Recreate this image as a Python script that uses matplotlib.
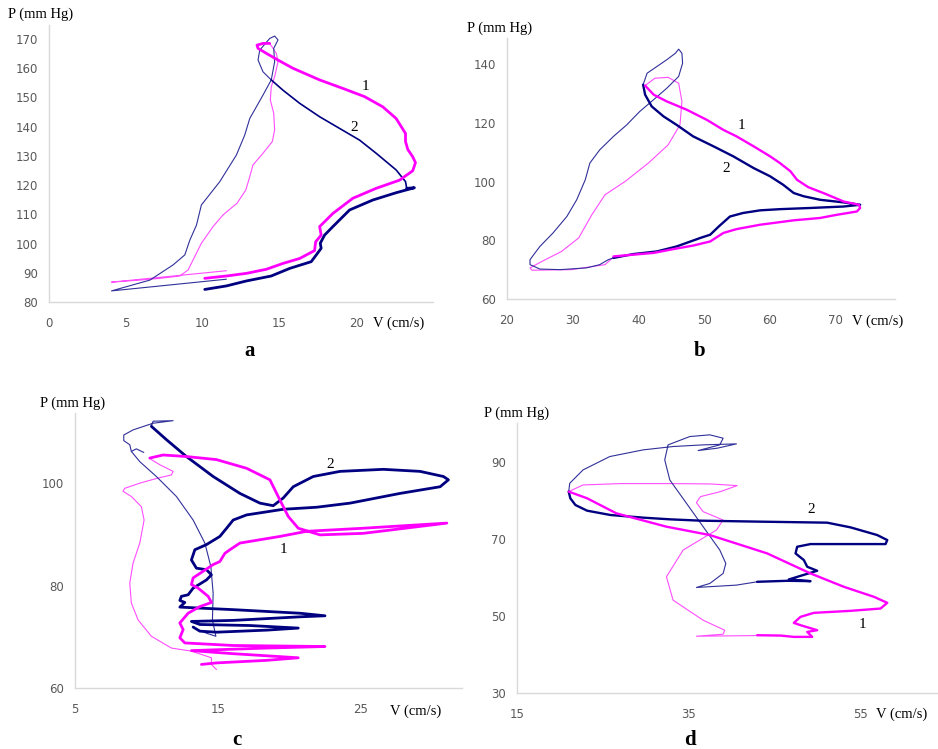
import matplotlib.pyplot as plt

W, H = 938, 749

PINK = '#FF00FF'
PINK_THIN = '#FF4DFF'
NAVY = '#000080'
NAVY_THIN = '#30309A'

# ---- panel a : (V cm/s, P mm Hg) ----
a_pink_thick = [(10.14, 88.1), (11.55, 88.9), (12.85, 89.8), (14.15, 91.2), (15.23, 93.2),
                (16.32, 94.9), (17.29, 97.6), (17.36, 100.6), (17.72, 102.9), (17.62, 105.8),
                (18.48, 110.3), (19.78, 115.5), (21.30, 118.9), (22.82, 121.7), (23.68, 124.9),
                (23.86, 127.7), (23.68, 129.7), (23.36, 132.2), (23.21, 134.9), (23.21, 137.7),
                (22.60, 142.8), (21.73, 146.8), (20.54, 150.3), (19.13, 153.1), (17.62, 156.0),
                (15.88, 160.0), (14.91, 162.8), (14.15, 165.1), (13.61, 166.8), (13.54, 167.9),
                (13.93, 168.5), (14.37, 168.5)]
a_pink_thin = [(14.37, 168.5), (14.80, 165.1), (14.91, 162.2), (14.69, 157.1), (14.47, 153.7),
               (14.41, 149.1), (14.63, 144.6), (14.69, 138.9), (14.54, 134.9), (13.93, 130.9),
               (13.28, 126.9), (13.07, 122.9), (12.81, 118.3), (12.24, 113.8), (11.33, 109.8),
               (10.68, 105.8), (9.92, 100.1), (9.38, 94.4), (9.06, 91.0), (8.52, 88.9),
               (7.22, 88.1), (5.92, 87.5), (4.07, 86.8), (11.55, 90.7)]
a_navy_thick = [(10.14, 84.3), (11.55, 85.5), (12.85, 87.2), (14.47, 88.9), (15.67, 91.5),
                (17.07, 93.8), (17.40, 96.1), (17.72, 98.4), (17.66, 100.1), (17.94, 102.9),
                (18.48, 105.8), (19.57, 111.5), (21.08, 114.9), (22.60, 117.4), (23.79, 119.1),
                (23.29, 118.9)]
a_navy_mid = [(23.29, 118.9), (23.21, 121.2), (22.60, 125.2), (21.30, 130.9), (20.22, 135.4),
              (18.92, 139.4), (17.62, 143.4), (16.32, 148.0), (15.23, 152.5), (14.47, 156.0)]
a_navy_thin = [(14.47, 156.0), (13.93, 158.8), (13.61, 162.8), (13.72, 166.2), (14.37, 170.2),
               (14.69, 171.0), (14.91, 169.7), (14.63, 166.8), (14.69, 162.2), (14.47, 156.0),
               (13.93, 150.8), (13.07, 142.8), (12.74, 137.1), (12.20, 130.3), (11.12, 121.2),
               (9.92, 113.2), (9.60, 106.3), (9.17, 101.2), (8.84, 96.1), (8.08, 92.7),
               (6.57, 87.5), (4.07, 83.8), (11.55, 87.8)]
a_labels = [('1', 20.6, 153.9), ('2', 19.9, 139.6)]

# ---- panel b ----
b_pink_thick = [(36.2, 74.5), (39.2, 75.1), (42.3, 75.7), (45.3, 77.0), (48.3, 78.2),
                (50.9, 79.6), (52.9, 82.5), (54.9, 83.8), (58.5, 85.3), (63.6, 86.8),
                (67.6, 87.6), (70.2, 88.7), (73.2, 89.8), (73.7, 91.0), (73.5, 92.1),
                (71.2, 93.2), (68.1, 96.1), (65.8, 98.1), (64.1, 100.6), (63.1, 103.5),
                (61.5, 106.3), (60.0, 108.6), (57.5, 112.0), (54.9, 115.4), (52.9, 117.6),
                (50.4, 121.0), (47.3, 124.5), (44.3, 127.3), (42.3, 129.6), (41.0, 132.7)]
b_pink_thin = [(41.0, 132.7), (42.5, 135.2), (44.5, 135.5), (46.1, 133.5), (46.6, 127.3),
               (46.3, 119.3), (44.5, 112.5), (41.5, 106.3), (38.0, 100.1), (34.9, 95.5),
               (32.9, 88.7), (30.9, 80.8), (28.3, 76.2), (25.3, 72.8), (23.5, 70.6),
               (23.8, 69.8), (29.8, 70.0), (34.9, 71.7), (36.2, 74.3)]
b_navy_thick = [(36.2, 74.0), (39.2, 75.3), (42.8, 76.2), (45.8, 77.9), (49.4, 80.8),
                (50.9, 81.9), (52.2, 84.7), (53.9, 88.1), (55.9, 89.3), (58.5, 90.2),
                (61.5, 90.6), (66.1, 91.0), (71.2, 91.5), (73.7, 92.1), (71.2, 92.9),
                (67.6, 93.8), (65.1, 95.0), (63.6, 96.1), (62.0, 98.9), (60.0, 101.8),
                (57.5, 104.6), (54.4, 108.6), (51.4, 112.0), (48.3, 115.4), (45.8, 119.3),
                (43.8, 122.2), (42.0, 125.6), (41.0, 129.6), (40.7, 133.0)]
b_navy_thin = [(40.7, 133.0), (41.3, 136.9), (42.8, 139.2), (44.3, 141.5), (45.6, 143.7),
               (46.1, 145.1), (46.6, 143.7), (46.7, 140.3), (46.1, 135.8), (44.3, 131.8),
               (42.3, 127.9), (40.2, 123.9), (38.2, 119.3), (36.2, 115.4), (34.1, 110.8),
               (32.6, 106.3), (31.9, 100.6), (30.6, 93.8), (29.1, 88.1), (27.0, 82.5),
               (25.0, 77.9), (23.5, 73.4), (23.5, 71.7), (25.0, 70.2), (28.1, 70.0),
               (32.1, 70.6), (34.1, 71.7), (35.4, 73.4), (36.2, 74.0)]
b_labels = [('1', 55.7, 119.0), ('2', 53.4, 104.6)]

# ---- panel c ----
c_pink_thick = [(10.23, 104.9), (11.16, 105.5), (12.79, 105.2), (14.89, 104.6), (17.0, 102.9),
                (18.63, 100.65), (19.33, 96.7), (19.91, 93.5), (20.61, 91.2), (22.13, 89.9),
                (25.16, 90.2), (31.0, 92.2), (25.16, 91.2), (21.2, 90.6), (19.33, 89.6),
                (16.53, 88.3), (15.83, 87.0), (15.48, 86.3), (15.13, 84.7), (14.66, 84.1),
                (13.96, 82.8), (13.26, 81.5), (13.14, 80.2), (13.61, 79.5), (14.31, 77.9),
                (14.54, 76.7), (13.73, 75.9), (12.91, 74.6), (12.33, 72.7), (12.56, 71.4),
                (12.33, 69.8), (12.68, 68.8), (16.06, 68.3), (22.48, 68.1), (18.40, 67.8),
                (13.14, 67.3), (16.06, 66.7), (20.61, 65.9), (18.40, 65.4), (14.89, 64.9),
                (13.84, 64.6)]
c_pink_thin = [(10.23, 104.9), (10.34, 104.6), (10.93, 103.6), (11.86, 102.3), (11.74, 101.6),
               (10.81, 101.0), (9.53, 100.0), (8.48, 99.0), (8.36, 98.4), (8.94, 97.4),
               (9.64, 95.4), (9.83, 92.8), (9.53, 88.3), (9.06, 84.4), (8.83, 80.5),
               (8.94, 76.6), (9.41, 73.3), (10.34, 70.1), (11.74, 67.8), (13.14, 67.2),
               (14.54, 65.9), (14.54, 64.6), (14.89, 63.6)]
c_navy_thick = [(10.34, 111.1), (11.39, 108.5), (12.79, 105.2), (14.66, 101.3), (16.53, 98.0),
                (17.93, 96.1), (18.86, 95.6), (19.56, 97.1), (20.26, 99.3), (21.66, 101.3),
                (23.53, 102.3), (26.56, 102.7), (29.13, 102.3), (30.76, 101.3), (31.11, 100.65),
                (30.53, 99.3), (27.73, 98.0), (24.23, 96.1), (21.90, 95.3), (19.56, 94.9),
                (17.0, 93.8), (16.06, 92.8), (15.60, 91.2), (15.13, 89.6), (14.19, 88.0),
                (13.38, 87.0), (13.14, 85.0), (13.49, 83.4), (14.19, 83.1), (14.54, 82.1),
                (14.19, 81.1), (13.26, 79.5), (12.91, 78.2), (12.44, 77.9), (12.33, 77.1),
                (12.68, 76.7), (12.33, 75.8), (13.73, 75.6), (16.06, 75.3), (20.73, 74.6),
                (22.48, 74.1), (20.73, 73.9), (16.06, 73.2), (13.14, 73.0), (13.73, 72.4),
                (17.23, 72.2), (20.61, 71.7), (18.40, 71.3), (14.89, 70.9), (13.73, 71.1),
                (13.26, 71.9)]
c_navy_thin = [(10.34, 111.1), (10.46, 112.1), (11.86, 112.2), (10.46, 111.7), (9.06, 110.4),
               (8.41, 109.4), (8.41, 108.3), (8.83, 107.5), (8.94, 106.2), (9.53, 104.2),
               (10.69, 101.3), (12.09, 97.4), (13.26, 92.8), (14.08, 88.3), (14.50, 83.7),
               (14.66, 78.5), (14.61, 73.3), (14.85, 70.1), (14.19, 70.7), (13.49, 71.5),
               (13.26, 71.9)]
c_navy_hook = [(8.94, 106.2), (9.29, 106.7), (9.81, 106.0)]
c_labels = [('1', 19.56, 87.0), ('2', 22.83, 103.6)]

# ---- panel d ----
d_pink_thick = [(21.02, 82.21), (23.16, 80.48), (26.57, 76.58), (32.40, 73.12), (37.45, 70.95),
                (44.13, 66.19), (49.17, 61.0), (53.06, 57.53), (56.55, 54.94), (58.11, 53.38),
                (57.33, 51.90), (53.83, 51.30), (49.56, 50.78), (48.01, 49.74), (47.23, 48.18),
                (48.01, 47.58), (49.95, 46.28), (48.79, 45.84), (49.37, 44.55), (47.23, 44.55),
                (45.68, 44.89), (42.96, 44.98)]
d_pink_thin = [(21.02, 82.21), (22.69, 83.94), (27.04, 84.29), (32.86, 84.29), (37.52, 84.20),
               (40.63, 83.77), (38.69, 82.21), (36.36, 80.91), (35.89, 79.35), (36.67, 77.01),
               (39.0, 74.85), (38.22, 72.25), (34.34, 67.06), (32.40, 60.13), (33.17, 54.07),
               (36.67, 48.87), (39.19, 46.28), (39.0, 45.24), (35.89, 44.72), (42.96, 44.89)]
d_navy_thick = [(42.96, 58.83), (46.46, 59.09), (49.17, 59.0), (46.65, 59.44), (49.95, 61.69),
                (48.79, 62.73), (48.40, 64.46), (47.43, 66.19), (47.62, 67.92), (49.17, 68.61),
                (53.06, 68.61), (57.91, 68.61), (58.11, 69.65), (56.94, 70.95), (53.83, 72.94),
                (51.12, 74.16), (43.35, 74.42), (36.36, 74.68), (32.86, 75.02), (29.76, 75.45),
                (25.87, 76.15), (23.16, 77.27), (21.80, 78.74), (21.21, 80.48), (21.02, 82.21)]
d_navy_thin = [(21.02, 82.21), (21.14, 84.37), (22.69, 87.84), (25.80, 91.30), (29.68, 93.03),
               (33.17, 93.90), (36.67, 94.33), (40.55, 94.59), (38.30, 93.46), (36.09, 92.86),
               (38.61, 94.33), (39.0, 96.06), (37.45, 96.93), (35.12, 96.49), (32.59, 94.33),
               (32.20, 90.43), (32.79, 85.24), (34.73, 79.18), (36.67, 73.12), (38.61, 67.06),
               (39.31, 63.59), (39.0, 61.0), (37.45, 58.40), (35.89, 57.36), (40.55, 57.97),
               (42.96, 58.83)]
d_labels = [('1', 55.2, 47.8), ('2', 49.2, 77.6)]

fig = plt.figure(figsize=(W / 100, H / 100), dpi=100)


def px(x, y):
    return x / W, 1 - y / H


def panel(box, xlim, ylim, xticks, yticks, curves, labels):
    l, t, r, b = box
    ax = fig.add_axes([l / W, 1 - b / H, (r - l) / W, (b - t) / H])
    for pts, color, lw in curves:
        v = [q[0] for q in pts]
        p = [q[1] for q in pts]
        ax.plot(v, p, color=color, lw=lw, solid_joinstyle='round', solid_capstyle='round')
    for txt, v, p in labels:
        ax.text(v, p, txt, fontsize=11, family='Liberation Serif', ha='center', va='center')
    ax.set_xlim(*xlim)
    ax.set_ylim(*ylim)
    ax.set_xticks(xticks)
    ax.set_yticks(yticks)
    for s in ['top', 'right']:
        ax.spines[s].set_visible(False)
    for s in ['left', 'bottom']:
        ax.spines[s].set_color('#D9D9D9')
        ax.spines[s].set_linewidth(1.0)
    ax.tick_params(length=0, labelsize=8.5, labelcolor='#595959')
    ax.tick_params(axis='x', pad=11)
    ax.tick_params(axis='y', pad=8)
    return ax


panel((49, 25, 433, 302), (0, 25), (80, 174.8), [0, 5, 10, 15, 20], range(80, 171, 10),
      [(a_pink_thin, PINK_THIN, 0.8), (a_navy_thin, NAVY_THIN, 0.8), (a_navy_mid, NAVY, 1.2),
       (a_navy_thick, NAVY, 2.0), (a_pink_thick, PINK, 2.0)], a_labels)
panel((507, 38, 895, 299), (20, 79), (60, 148.9), [20, 30, 40, 50, 60, 70], [60, 80, 100, 120, 140],
      [(b_pink_thin, PINK_THIN, 0.8), (b_navy_thin, NAVY_THIN, 0.8),
       (b_navy_thick, NAVY, 1.7), (b_pink_thick, PINK, 1.7)], b_labels)
panel((75, 413, 462, 688), (5, 32.06), (60, 113.7), [5, 15, 25], [60, 80, 100],
      [(c_pink_thin, PINK_THIN, 0.8), (c_navy_thin, NAVY_THIN, 0.8), (c_navy_hook, NAVY_THIN, 0.8),
       (c_navy_thick, NAVY, 2.0), (c_pink_thick, PINK, 2.0)], c_labels)
panel((517, 423, 937, 693), (15, 63.9), (30, 100), [15, 35, 55], [30, 50, 70, 90],
      [(d_pink_thin, PINK_THIN, 0.8), (d_navy_thin, NAVY_THIN, 0.8),
       (d_navy_thick, NAVY, 1.7), (d_pink_thick, PINK, 1.7)], d_labels)

# axis captions and panel letters
serif = dict(family='Liberation Serif', fontsize=10.5, va='center')
for x, y, txt in [(8, 14, 'P (mm Hg)'), (467, 28, 'P (mm Hg)'), (40, 403, 'P (mm Hg)'),
                  (484, 413, 'P (mm Hg)')]:
    fig.text(*px(x, y), txt, ha='left', **serif)
for x, y, txt in [(373, 323, 'V (cm/s)'), (852, 321, 'V (cm/s)'), (390, 711, 'V (cm/s)'),
                  (876, 714, 'V (cm/s)')]:
    fig.text(*px(x, y), txt, ha='left', **serif)
for x, y, txt in [(250, 351, 'a'), (700, 351, 'b'), (237, 740, 'c'), (690, 740, 'd')]:
    fig.text(*px(x, y), txt, ha='center', va='center', family='Liberation Serif',
             fontsize=15, fontweight='bold')

fig.savefig('out.png', dpi=100)
